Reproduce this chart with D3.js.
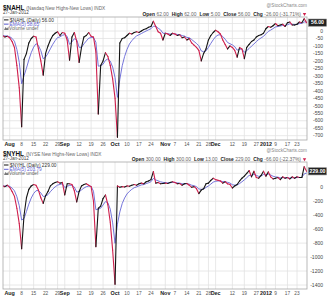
<!DOCTYPE html>
<html>
<head>
<meta charset="utf-8">
<script src="https://cdn.jsdelivr.net/npm/d3@7"></script>
<style>
  body { margin: 0; background: #fff; }
  svg { display: block; font-family: "Liberation Sans", Arial, sans-serif; }
</style>
</head>
<body>
<div id="chart"></div>
<script>
// trading-day index 0 = 1-Aug-2011, -3..-1 = last days of July, 124 = 27-Jan-2012
const firstIdx = -3;
const tickIdx = [0, 5, 10, 15, 20, 23, 29, 34, 39, 44, 49, 54, 59, 65, 69, 74, 79, 83, 86, 93, 98, 103, 107, 111, 116, 120];
const tickLabels = ['Aug', '8', '15', '22', '29', 'Sep', '12', '19', '26', 'Oct', '10', '17', '24', 'Nov', '7', '14', '21', '28', 'Dec', '12', '19', '27', '2012', '9', '17', '23'];
const monthLabels = ['Aug', 'Sep', 'Oct', 'Nov', 'Dec', '2012'];

const nahlDaily = [-30, -40, -35,
  -45, -70, -110, -230, -380, -640, -190, -150, -80, -50,
  -35, -40, -120, -200, -295, -150, -100, -60, -30, -15,
  -5, -30, -10, -15, -60, -195, -40, -10, -70, -210,
  -110, -40, -30, -10, -35, -40, -140, -555, -230, -200,
  -145, -170, -230, -320, -450, -710, -80, -50, -45, -30,
  -15, -20, -10, -5, -10, 0, 10, 15, 25, 30,
  65, 30, -5, -15, -60, -15, -20, -30, -15, -20,
  -30, -25, -45, -40, -60, -50, -80, -95, -110, -130,
  -200, -150, -120, -60, -30, -10, 5, -5, -20, -60,
  -90, -120, -100, -110, -130, -175, -110, -120, -185, -110,
  -90, -70, -60, -40, -30, -25, -15, 15, 30, 25,
  35, 50, 35, 40, 45, 30, 55, 60, 40, 40,
  45, 60, 55, 82, 56];
const nahlEma = [-30, -33, -34,
  -38, -49, -69, -123, -209, -353, -299, -249, -193, -145,
  -108, -85, -97, -131, -186, -174, -149, -119, -89, -64,
  -44, -39, -29, -24, -36, -89, -73, -52, -58, -109,
  -109, -86, -67, -48, -44, -43, -75, -235, -233, -222,
  -196, -187, -201, -241, -311, -444, -323, -232, -170, -123,
  -87, -65, -47, -33, -25, -17, -8, 0, 8, 15,
  32, 31, 19, 8, -15, -15, -17, -21, -19, -19,
  -23, -24, -31, -34, -43, -45, -57, -70, -83, -99,
  -133, -139, -133, -109, -83, -59, -38, -27, -25, -37,
  -55, -77, -85, -93, -105, -128, -122, -121, -142, -131,
  -117, -101, -87, -71, -57, -46, -36, -19, -3, 6,
  16, 27, 30, 33, 37, 35, 42, 48, 45, 43,
  44, 49, 51, 61, 59];

const nyhlDaily = [20, 10, 30,
  0, -60, -130, -300, -520, -880, -400, -150, -30, 20,
  40, 30, -40, -150, -230, -120, -60, 20, 50, 70,
  80, 60, 70, -110, 50, 50, 40, -50, -210, -60,
  20, 40, 50, 30, 10, -200, -850, -300, -270, -160,
  -110, -250, -500, -900, -1390, 20, 0, 10, 5, 20,
  15, 30, 40, 30, 50, 60, 50, 80, 90, 110,
  225, 60, 70, 50, 55, 60, 55, 70, 80, 70,
  50, 55, 30, 50, 55, 30, 0, 10, -20, -90,
  -40, -20, 50, 60, 100, 130, 110, 100, 90, 60,
  80, 50, 40, -10, 20, 40, 90, 130, 160, 200,
  240, 150, 230, 140, 130, 170, 230, 160, 220, 150,
  120, 130, 140, 110, 150, 130, 140, 120, 150, 130,
  150, 140, 140, 295, 229];
const nyhlEma = [20, 17, 21,
  14, -11, -51, -134, -263, -469, -446, -347, -241, -154,
  -89, -49, -46, -81, -131, -127, -105, -63, -25, 7,
  31, 41, 51, -3, 15, 27, 31, 4, -67, -65,
  -37, -11, 9, 16, 14, -57, -321, -314, -299, -253,
  -205, -220, -313, -509, -803, -529, -353, -232, -153, -95,
  -58, -29, -6, 6, 21, 34, 39, 53, 65, 80,
  128, 105, 93, 79, 71, 67, 63, 65, 70, 70,
  63, 60, 50, 50, 52, 45, 30, 23, 9, -24,
  -29, -26, -1, 19, 46, 74, 86, 91, 91, 81,
  81, 71, 61, 37, 31, 34, 53, 79, 106, 137,
  171, 164, 186, 171, 157, 161, 184, 176, 191, 177,
  158, 149, 146, 134, 139, 136, 137, 131, 137, 135,
  140, 140, 140, 192, 204];

const nahlGrid = [50, 0, -50, -100, -150, -200, -250, -300, -350, -400, -450, -500, -550, -600, -650, -700];
const nahlLabels = ['0', '-50', '-100', '-150', '-200', '-250', '-300', '-350', '-400', '-450', '-500', '-550', '-600', '-650', '-700'];
const nyhlGrid = [200, 0, -200, -400, -600, -800, -1000, -1200, -1400];
const nyhlLabels = ['0', '-200', '-400', '-600', '-800', '-1000', '-1200', '-1400'];

const panels = [
  {
    id: 'nahl', sym: '$NAHL', desc: '(Nasdaq New Highs-New Lows) INDX',
    daily: nahlDaily, ema: nahlEma, grid: nahlGrid, labels: nahlLabels,
    ohlc: ['62.00', '62.00', '5.00', '56.00'], chg: '-26.00 (-31.71%)',
    last: '56.00', emaLast: '58.65',
    top: 17, bottom: 140, lo: -700, loPx: 135.7, zeroPx: 31, titleY: 4.6, dateY: 12.8, openY: 14, legY: 19.9
  },
  {
    id: 'nyhl', sym: '$NYHL', desc: '(NYSE New Highs-New Lows) INDX',
    daily: nyhlDaily, ema: nyhlEma, grid: nyhlGrid, labels: nyhlLabels,
    ohlc: ['300.00', '300.00', '13.00', '229.00'], chg: '-66.00 (-22.37%)',
    last: '229.00', emaLast: '203.79',
    top: 162, bottom: 289, lo: -1400, loPx: 285, zeroPx: 187.3, titleY: 150.3, dateY: 158.2, openY: 159.2, legY: 165
  }
];

const W = 328, H = 300;
const plotL = 3, plotR = 307;
const upColor = '#151515', downColor = '#cf1f4c', emaColor = '#6565d6';

const svg = d3.select('#chart').append('svg')
  .attr('width', W)
  .attr('height', H);

const x = d3.scaleLinear().domain([-3, 124]).range([2.5, 306.6]);

panels.forEach((p) => {
  const y = d3.scaleLinear().domain([p.lo, 0]).range([p.loPx, p.zeroPx]);
  const g = svg.append('g');

  g.append('clipPath').attr('id', 'clip-' + p.id)
    .append('rect')
    .attr('x', plotL).attr('y', p.top)
    .attr('width', plotR - plotL).attr('height', p.bottom - p.top);

  // grid
  g.selectAll('.hg').data(p.grid).enter().append('line')
    .attr('x1', plotL).attr('x2', plotR)
    .attr('y1', (d) => y(d)).attr('y2', (d) => y(d))
    .attr('stroke', '#e2e2e2').attr('stroke-width', 0.8);
  g.selectAll('.vg').data(tickIdx).enter().append('line')
    .attr('x1', (d) => x(d)).attr('x2', (d) => x(d))
    .attr('y1', p.top).attr('y2', p.bottom)
    .attr('stroke', '#e2e2e2').attr('stroke-width', 0.8);

  g.append('rect')
    .attr('x', plotL).attr('y', p.top)
    .attr('width', plotR - plotL).attr('height', p.bottom - p.top)
    .attr('fill', 'none').attr('stroke', '#a8a8a8').attr('stroke-width', 0.8);

  const lines = g.append('g').attr('clip-path', 'url(#clip-' + p.id + ')');

  // EMA(5)
  const emaPts = p.ema.map((v, i) => [i + firstIdx, v]);
  lines.append('path')
    .datum(emaPts)
    .attr('fill', 'none')
    .attr('stroke', emaColor)
    .attr('stroke-width', 0.9)
    .attr('d', d3.line().x((d) => x(d[0])).y((d) => y(d[1])));

  // daily line, black on rises, red on declines
  const pts = p.daily.map((v, i) => [i + firstIdx, v]);
  lines.selectAll('.seg').data(d3.pairs(pts)).enter().append('line')
    .attr('x1', (d) => x(d[0][0])).attr('y1', (d) => y(d[0][1]))
    .attr('x2', (d) => x(d[1][0])).attr('y2', (d) => y(d[1][1]))
    .attr('stroke', (d) => (d[1][1] < d[0][1] ? downColor : upColor))
    .attr('stroke-width', 1.1)
    .attr('stroke-linecap', 'round');

  // right axis labels
  g.selectAll('.yl').data(p.labels).enter().append('text')
    .attr('x', 323)
    .attr('y', (d) => y(+d))
    .attr('dy', '0.35em')
    .attr('text-anchor', 'end')
    .attr('font-size', 5)
    .attr('fill', '#444')
    .text((d) => d);

  // last value box
  const by = y(+p.last);
  g.append('rect')
    .attr('x', 308.5).attr('y', by - 3.6)
    .attr('width', 18).attr('height', 7.2)
    .attr('fill', '#222').attr('stroke', '#888').attr('stroke-width', 0.6);
  g.append('text')
    .attr('x', 317.5).attr('y', by).attr('dy', '0.35em')
    .attr('text-anchor', 'middle')
    .attr('font-size', 5.2).attr('font-weight', 'bold')
    .attr('fill', '#fff')
    .text(p.last);

  // x labels
  g.selectAll('.xl').data(tickIdx).enter().append('text')
    .attr('x', (d) => x(d))
    .attr('y', p.bottom + 4.5)
    .attr('dy', '0.35em')
    .attr('text-anchor', 'middle')
    .attr('font-size', (d, i) => (monthLabels.includes(tickLabels[i]) ? 5.4 : 4.8))
    .attr('font-weight', (d, i) => (monthLabels.includes(tickLabels[i]) ? 'bold' : 'normal'))
    .attr('fill', (d, i) => (monthLabels.includes(tickLabels[i]) ? '#222' : '#555'))
    .text((d, i) => tickLabels[i]);

  // title
  const t = g.append('text').attr('x', 3).attr('y', p.titleY).attr('dy', '0.35em');
  t.append('tspan').attr('font-size', 6.4).attr('font-weight', 'bold').attr('fill', '#111').text(p.sym);
  t.append('tspan').attr('font-size', 4.7).attr('fill', '#666').attr('dx', 2).text(p.desc);

  g.append('text')
    .attr('x', 307).attr('y', p.titleY + 0.5).attr('dy', '0.35em')
    .attr('text-anchor', 'end')
    .attr('font-size', 4.7).attr('fill', '#888')
    .text('@StockCharts.com');

  g.append('text')
    .attr('x', 3).attr('y', p.dateY).attr('dy', '0.35em')
    .attr('font-size', 4.6).attr('fill', '#444')
    .text('27-Jan-2012');

  const o = g.append('text')
    .attr('x', 301).attr('y', p.openY).attr('dy', '0.35em')
    .attr('text-anchor', 'end')
    .attr('font-size', 4.9);
  const names = ['Open', 'High', 'Low', 'Close'];
  names.forEach((n, i) => {
    o.append('tspan').attr('font-weight', 'bold').attr('fill', '#222').attr('dx', i ? 3 : 0).text(n);
    o.append('tspan').attr('fill', '#666').attr('dx', 1.5).text(p.ohlc[i]);
  });
  o.append('tspan').attr('font-weight', 'bold').attr('fill', '#222').attr('dx', 3).text('Chg');
  o.append('tspan').attr('fill', '#666').attr('dx', 1.5).text(p.chg);
  g.append('path')
    .attr('d', d3.symbol().type(d3.symbolTriangle).size(5)())
    .attr('transform', 'translate(304.5,' + p.openY + ') rotate(180)')
    .attr('fill', downColor);

  // legend
  const legend = g.append('g').attr('font-size', 4.8);
  legend.append('line')
    .attr('x1', 4).attr('x2', 8.5).attr('y1', p.legY).attr('y2', p.legY)
    .attr('stroke', '#111').attr('stroke-width', 1);
  legend.append('text').attr('x', 10).attr('y', p.legY).attr('dy', '0.35em')
    .attr('fill', '#333').text(p.sym + ' (Daily) ' + p.last);
  legend.append('line')
    .attr('x1', 4).attr('x2', 8.5).attr('y1', p.legY + 4.3).attr('y2', p.legY + 4.3)
    .attr('stroke', emaColor).attr('stroke-width', 1);
  legend.append('text').attr('x', 9.5).attr('y', p.legY + 4.3).attr('dy', '0.35em')
    .attr('fill', emaColor).text('EMA(5) ' + p.emaLast);
  legend.append('path')
    .attr('d', 'M4,' + (p.legY + 10) + 'l1.5,-3l1.5,1.5l1.5,-2v3.5z')
    .attr('fill', '#777');
  legend.append('text').attr('x', 9).attr('y', p.legY + 8.6).attr('dy', '0.35em')
    .attr('fill', '#666').text('Volume undef');
});
</script>
</body>
</html>
